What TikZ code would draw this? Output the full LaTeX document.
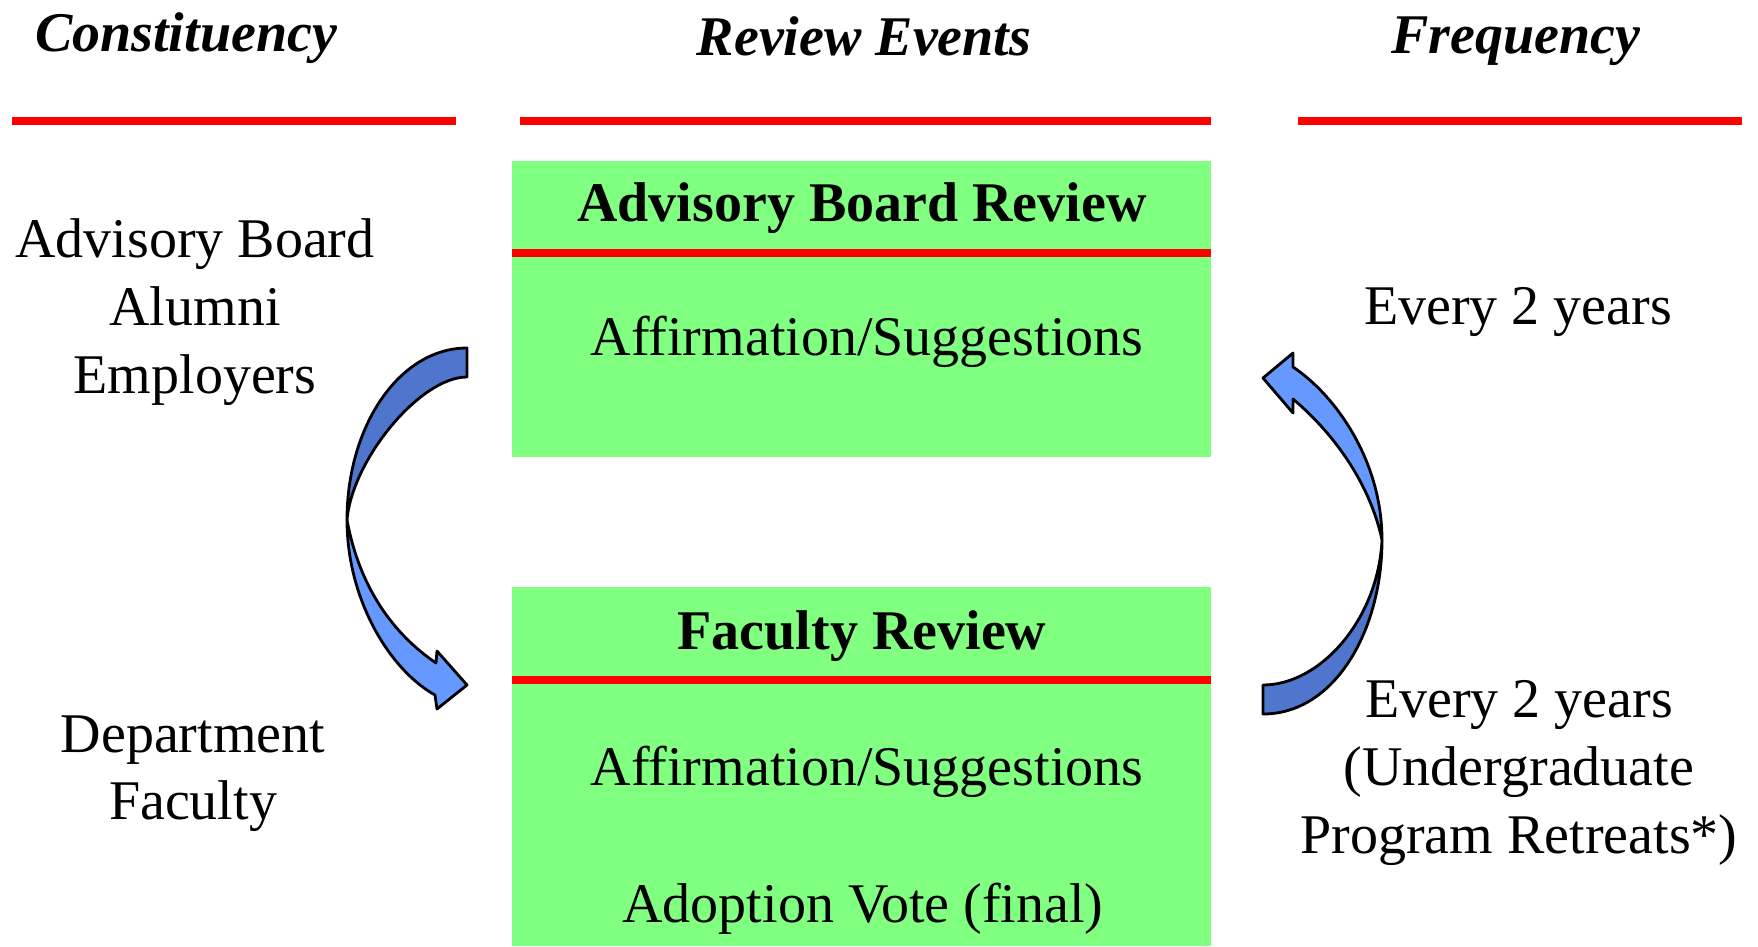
\documentclass[tikz,border=0pt]{standalone}
\usepackage{fontspec}
\setmainfont{Liberation Serif}
\definecolor{boxgreen}{RGB}{128,255,128}
\definecolor{arrowdark}{RGB}{79,117,204}
\definecolor{arrowlight}{RGB}{102,153,255}
\begin{document}
\begin{tikzpicture}[x=1pt,y=-1pt,
  txt/.style={font=\fontsize{56}{67}\selectfont, inner sep=0pt, anchor=base},
  hdr/.style={font=\fontsize{56}{67}\selectfont\bfseries\itshape, inner sep=0pt, anchor=base},
  ttl/.style={font=\fontsize{56}{67}\selectfont\bfseries, inner sep=0pt, anchor=base},
  redrule/.style={draw=red, line width=8},
  greenbox/.style={fill=boxgreen, draw=none, inner sep=0pt, anchor=north west, minimum width=699, minimum height=#1},
  arrowband/.style={fill=#1, draw=black, line width=2.8, line join=round}
]
\path[use as bounding box] (0,0) rectangle (1758,946);

% headers
\node[hdr] (hc) at (186,51) {Constituency};
\node[hdr] (he) at (864,55) {Review Events};
\node[hdr] (hf) at (1516,53) {Frequency};
\coordinate (l1a) at (12,121);   \coordinate (l1b) at (456,121);
\coordinate (l2a) at (520,121);  \coordinate (l2b) at (1211,121);
\coordinate (l3a) at (1298,121); \coordinate (l3b) at (1742,121);
\draw[redrule] (l1a) -- (l1b);
\draw[redrule] (l2a) -- (l2b);
\draw[redrule] (l3a) -- (l3b);

% boxes
\node[greenbox=296] (box1) at (512,161) {};
\node[greenbox=359] (box2) at (512,587) {};
\coordinate (r1a) at (512,253); \coordinate (r1b) at (1211,253);
\coordinate (r2a) at (512,680); \coordinate (r2b) at (1211,680);
\draw[redrule] (r1a) -- (r1b);
\draw[redrule] (r2a) -- (r2b);

\node[ttl] (t1) at (862,221) {Advisory Board Review};
\node[txt] (a1) at (867,355) {Affirmation/Suggestions};
\node[ttl] (t2) at (862,649) {Faculty Review};
\node[txt] (a2) at (867,785) {Affirmation/Suggestions};
\node[txt] (av) at (863,922) {Adoption Vote (final)};

% left column
\node[txt] (c1) at (195,257) {Advisory Board};
\node[txt] (c2) at (195,325) {Alumni};
\node[txt] (c3) at (195,393) {Employers};
\node[txt] (d1) at (193,752) {Department};
\node[txt] (d2) at (193,819) {Faculty};

% right column
\node[txt] (f1) at (1518,324) {Every 2 years};
\node[txt] (f2) at (1519,717) {Every 2 years};
\node[txt] (f3) at (1519,785) {(Undergraduate};
\node[txt] (f4) at (1519,853) {Program Retreats*)};

% left curved arrow
\filldraw[arrowband=arrowdark]
  (467,348) .. controls (400,348) and (347,425) .. (347,520)
  .. controls (352,460) and (420,377) .. (467,377) -- cycle;
\filldraw[arrowband=arrowlight]
  (347,520) .. controls (347,600) and (390,670) .. (435,695)
  -- (437,709) -- (467,685) -- (437,651) -- (436,663)
  .. controls (395,635) and (360,590) .. (347,520) -- cycle;

% right curved arrow
\filldraw[arrowband=arrowdark]
  (1382,540) .. controls (1382,630) and (1335,714) .. (1263,714)
  -- (1263,685) .. controls (1320,685) and (1378,620) .. (1382,540) -- cycle;
\filldraw[arrowband=arrowlight]
  (1382,540) .. controls (1382,460) and (1335,395) .. (1293,367)
  -- (1293,353) -- (1263,378) -- (1293,413) -- (1293,399)
  .. controls (1338,437) and (1371,488) .. (1382,540) -- cycle;
\end{tikzpicture}
\end{document}
